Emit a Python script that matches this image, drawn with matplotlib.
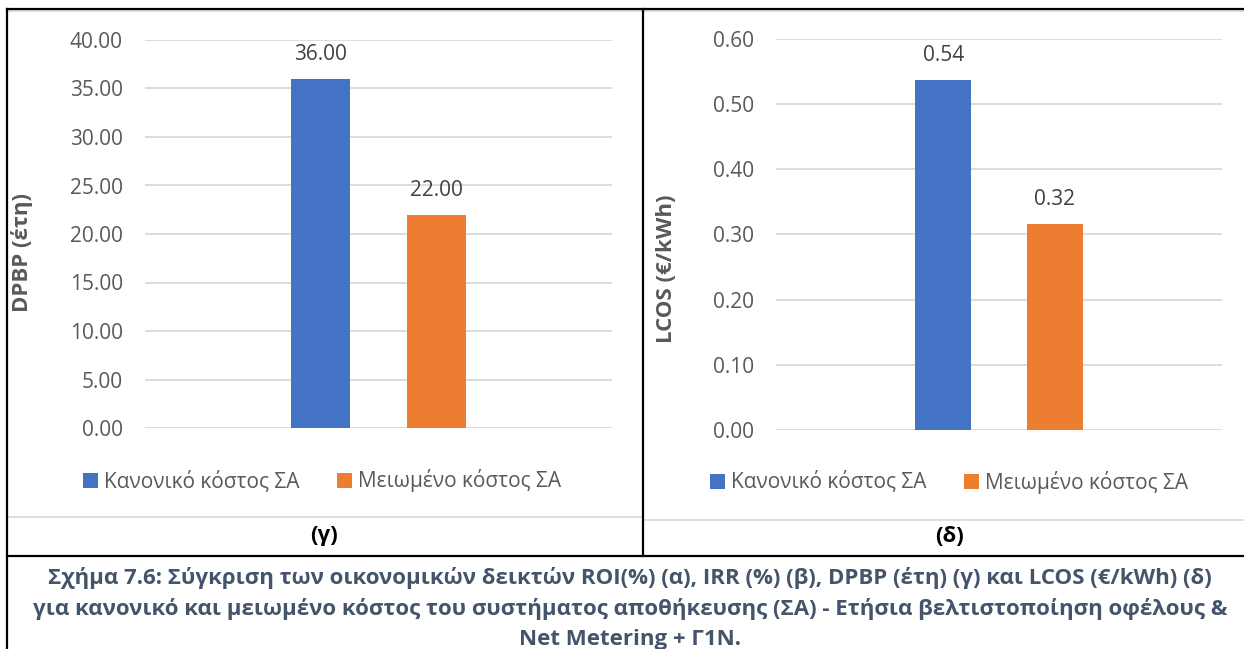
import matplotlib
matplotlib.use("Agg")
import matplotlib.pyplot as plt
from matplotlib.lines import Line2D
from matplotlib.patches import Patch

# ---- data ----
series_names = ["Κανονικό κόστος ΣΑ", "Μειωμένο κόστος ΣΑ"]
dpbp_values = [36.00, 22.00]
lcos_values = [0.538, 0.316]
dpbp_ticks = [0, 5, 10, 15, 20, 25, 30, 35, 40]
lcos_ticks = [0.0, 0.1, 0.2, 0.3, 0.4, 0.5, 0.6]
dpbp_ylabel = "DPBP (έτη)"
lcos_ylabel = "LCOS (€/kWh)"
panel_labels = ["(γ)", "(δ)"]
caption_lines = [
    "Σχήμα 7.6: Σύγκριση των οικονομικών δεικτών ROI(%) (α), IRR (%) (β), DPBP (έτη) (γ) και LCOS (€/kWh) (δ)",
    "για κανονικό και μειωμένο κόστος του συστήματος αποθήκευσης (ΣΑ) - Ετήσια βελτιστοποίηση οφέλους &",
    "Net Metering + Γ1Ν.",
]

colors = ["#4472C4", "#ED7D31"]
W, H = 1244, 649
plt.rcParams["font.family"] = ["Open Sans", "DejaVu Sans"]

fig = plt.figure(figsize=(W / 100, H / 100), dpi=100)
fig.patch.set_facecolor("white")


def fx(x):
    return x / W


def fy(y):
    return 1 - y / H


def make_axes(x0, x1, y_top, y_bot):
    return fig.add_axes([fx(x0), fy(y_bot), (x1 - x0) / W, (y_bot - y_top) / H])


def draw_chart(ax, values, ticks, ylabel, ylabel_pos, legend_center, fmt):
    offsets = [-0.125, 0.125]
    for i, (v, off) in enumerate(zip(values, offsets)):
        b = ax.bar(off, v, width=0.126, color=colors[i], label=series_names[i], zorder=3)
        ax.bar_label(b, labels=[fmt % v], padding=10, fontsize=15, color="#404040")
    ax.set_xlim(-0.5, 0.5)
    ax.set_ylim(ticks[0], ticks[-1])
    ax.set_yticks(ticks)
    ax.set_yticklabels([fmt % t for t in ticks])
    ax.tick_params(axis="y", length=0, labelsize=15, labelcolor="#595959", pad=16)
    ax.set_xticks([])
    for s in ax.spines.values():
        s.set_visible(False)
    ax.grid(axis="y", color="#D9D9D9", linewidth=1.3, zorder=0)
    ax.set_axisbelow(True)
    fig.text(fx(ylabel_pos[0]), fy(ylabel_pos[1]), ylabel, rotation=90, ha="center",
             va="center", fontsize=16, fontweight="bold", color="#595959")
    handles = [Patch(facecolor=c) for c in colors]
    fig.legend(handles, series_names, loc="center",
               bbox_to_anchor=(fx(legend_center[0]), fy(legend_center[1])),
               ncol=2, frameon=False, fontsize=15, labelcolor="#595959",
               handlelength=0.7, handleheight=0.7, handletextpad=0.3,
               columnspacing=1.8)


ax1 = make_axes(145, 612, 40, 428)
draw_chart(ax1, dpbp_values, dpbp_ticks, dpbp_ylabel, (22, 252), (322, 481), "%.2f")

ax2 = make_axes(776, 1222, 39.3, 429.6)
draw_chart(ax2, lcos_values, lcos_ticks, lcos_ylabel, (667, 269), (949, 482), "%.2f")


def fline(x0, y0, x1, y1, color, lw):
    fig.add_artist(Line2D([fx(x0), fx(x1)], [fy(y0), fy(y1)], color=color, linewidth=lw,
                          transform=fig.transFigure, solid_capstyle="projecting"))


# chart area borders (light gray)
fline(8, 11, 641, 11, "#D9D9D9", 1.2)
fline(8, 517, 641, 517, "#D9D9D9", 1.2)
fline(644, 11, 1244, 11, "#D9D9D9", 1.2)
fline(644, 520, 1244, 520, "#D9D9D9", 1.2)

# table borders (black)
fline(7, 9, 1244, 9, "black", 1.6)
fline(7, 9, 7, 649, "black", 1.6)
fline(642.5, 9, 642.5, 555.5, "black", 1.6)
fline(7, 555.5, 1244, 555.5, "black", 1.6)

# panel labels
fig.text(fx(324), fy(536), panel_labels[0], ha="center", va="center",
         fontsize=16, fontweight="bold", color="black")
fig.text(fx(950), fy(536), panel_labels[1], ha="center", va="center",
         fontsize=16, fontweight="bold", color="black")

# caption
for y, line in zip([584, 614.5, 645], caption_lines):
    fig.text(fx(630), fy(y), line, ha="center", va="baseline", fontsize=16,
             fontweight="bold", color="#44546A")

fig.savefig("out.png", dpi=100, facecolor="white")
